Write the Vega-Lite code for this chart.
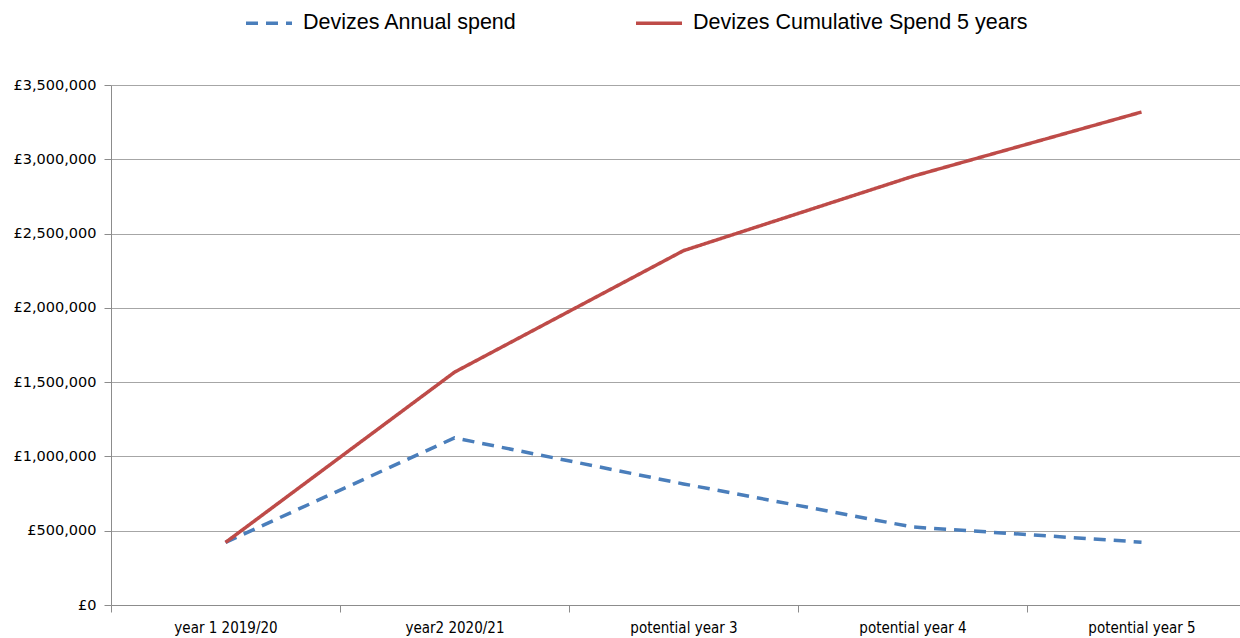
{
  "$schema": "https://vega.github.io/schema/vega-lite/v6.json",
  "width": 1129,
  "height": 520,
  "autosize": {"type": "none"},
  "padding": {"left": 111, "top": 85, "right": 0, "bottom": 33},
  "background": "white",
  "config": {"view": {"stroke": null}},
  "data": {
    "values": [
      {"period": "year 1 2019/20", "series": "Devizes Annual spend", "value": 421000},
      {"period": "year2 2020/21", "series": "Devizes Annual spend", "value": 1125000},
      {"period": "potential year 3", "series": "Devizes Annual spend", "value": 815000},
      {"period": "potential year 4", "series": "Devizes Annual spend", "value": 525000},
      {"period": "potential year 5", "series": "Devizes Annual spend", "value": 423000},
      {"period": "year 1 2019/20", "series": "Devizes Cumulative Spend 5 years", "value": 421000},
      {"period": "year2 2020/21", "series": "Devizes Cumulative Spend 5 years", "value": 1567000},
      {"period": "potential year 3", "series": "Devizes Cumulative Spend 5 years", "value": 2385000},
      {"period": "potential year 4", "series": "Devizes Cumulative Spend 5 years", "value": 2885000},
      {"period": "potential year 5", "series": "Devizes Cumulative Spend 5 years", "value": 3318000}
    ]
  },
  "mark": {"type": "line", "strokeWidth": 3.5},
  "encoding": {
    "x": {
      "field": "period",
      "type": "nominal",
      "sort": ["year 1 2019/20", "year2 2020/21", "potential year 3", "potential year 4", "potential year 5"],
      "scale": {"type": "band", "paddingInner": 0, "paddingOuter": 0, "range": [0, 1145]},
      "axis": {
        "title": null,
        "labelAngle": 0,
        "tickBand": "extent",
        "grid": false,
        "domainColor": "#8c8c8c",
        "tickColor": "#8c8c8c",
        "tickSize": 7,
        "labelFont": "DejaVu Sans Condensed",
        "labelFontSize": 15,
        "labelColor": "#000000",
        "labelPadding": 8
      }
    },
    "y": {
      "field": "value",
      "type": "quantitative",
      "scale": {"domain": [0, 3500000]},
      "axis": {
        "title": null,
        "values": [0, 500000, 1000000, 1500000, 2000000, 2500000, 3000000, 3500000],
        "labelExpr": "'£' + format(datum.value, ',')",
        "grid": true,
        "gridColor": "#a6a6a6",
        "gridWidth": 1.2,
        "domainColor": "#8c8c8c",
        "tickColor": "#8c8c8c",
        "tickSize": 7,
        "labelFont": "DejaVu Sans",
        "labelFontSize": 14.5,
        "labelColor": "#000000",
        "labelPadding": 8
      }
    },
    "color": {
      "field": "series",
      "type": "nominal",
      "scale": {"domain": ["Devizes Annual spend", "Devizes Cumulative Spend 5 years"], "range": ["#4a7ebb", "#be4b48"]},
      "legend": {
        "orient": "none",
        "legendX": 133,
        "legendY": -87,
        "direction": "horizontal",
        "title": null,
        "symbolType": "stroke",
        "symbolSize": 2116,
        "symbolStrokeWidth": 3.5,
        "labelFont": "Liberation Sans",
        "labelFontSize": 21.5,
        "labelColor": "#000000",
        "columnPadding": 112,
        "labelOffset": 9,
        "labelLimit": 500
      }
    },
    "strokeDash": {
      "field": "series",
      "type": "nominal",
      "scale": {"domain": ["Devizes Annual spend", "Devizes Cumulative Spend 5 years"], "range": [[12, 8], [1, 0]]},
      "legend": {
        "orient": "none",
        "legendX": 133,
        "legendY": -87,
        "direction": "horizontal",
        "title": null,
        "symbolType": "stroke",
        "symbolSize": 2116,
        "symbolStrokeWidth": 3.5,
        "labelFont": "Liberation Sans",
        "labelFontSize": 21.5,
        "labelColor": "#000000",
        "columnPadding": 112,
        "labelOffset": 9,
        "labelLimit": 500
      }
    }
  }
}
